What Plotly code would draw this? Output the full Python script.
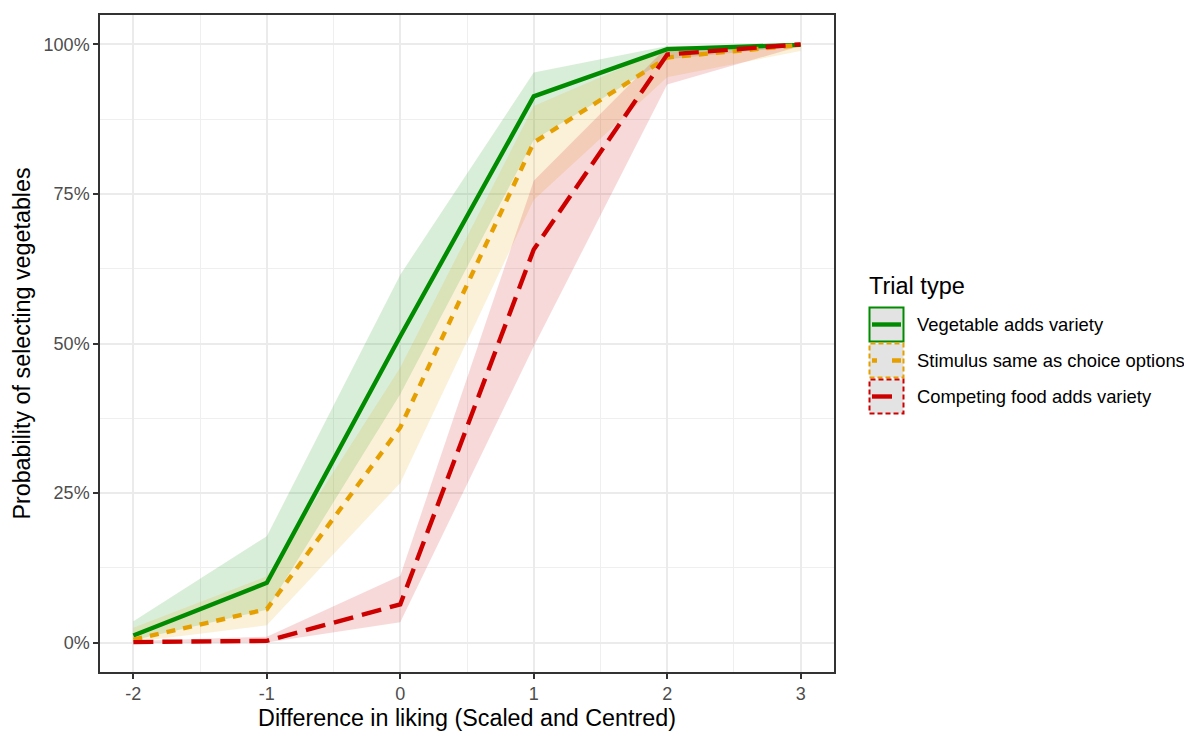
import plotly.graph_objects as go

# ---------------- data ----------------
liking = [-2, -1, 0, 1, 2, 3]

series_names = ["Vegetable adds variety",
                "Stimulus same as choice options",
                "Competing food adds variety"]

veg_mean = [0.012, 0.100, 0.512, 0.913, 0.992, 0.999]
veg_lo   = [0.004, 0.055, 0.415, 0.840, 0.975, 0.997]
veg_hi   = [0.036, 0.178, 0.615, 0.953, 0.997, 1.000]

stim_mean = [0.005, 0.056, 0.360, 0.836, 0.978, 0.999]
stim_lo   = [0.001, 0.029, 0.267, 0.740, 0.945, 0.989]
stim_hi   = [0.025, 0.111, 0.460, 0.897, 0.993, 1.000]

comp_mean = [0.001, 0.003, 0.064, 0.657, 0.983, 1.000]
comp_lo   = [0.000, 0.0005, 0.034, 0.495, 0.933, 0.997]
comp_hi   = [0.003, 0.010, 0.112, 0.772, 0.996, 1.000]

x_ticks = [-2, -1, 0, 1, 2, 3]
y_ticks = [0, 0.25, 0.5, 0.75, 1.0]
y_tick_labels = ["0%", "25%", "50%", "75%", "100%"]

# ---------------- styles ----------------
OFF = 8                       # page body margin of the browser
W, H = 1192 - OFF, 742 - OFF
L, R, T, B = 100 - OFF, 834 - OFF, 15 - OFF, 672 - OFF   # plot panel in figure pixels
colors = ["#008B00", "#E69F00", "#CD0000"]
fills = ["rgba(0,139,0,0.15)", "rgba(230,159,0,0.15)", "rgba(205,0,0,0.15)"]
dashes = ["solid", "9px,8px", "20px,9px"]
FONT = "Liberation Sans, Arial, sans-serif"

means = [veg_mean, stim_mean, comp_mean]
los = [veg_lo, stim_lo, comp_lo]
his = [veg_hi, stim_hi, comp_hi]

fig = go.Figure()

# ribbons first
for i in range(3):
    fig.add_trace(go.Scatter(
        x=liking + liking[::-1],
        y=his[i] + los[i][::-1],
        fill="toself", fillcolor=fills[i], mode="none",
        line=dict(width=0), hoverinfo="skip", showlegend=False))

# lines on top
for i in range(3):
    fig.add_trace(go.Scatter(
        x=liking, y=means[i], mode="lines", name=series_names[i],
        line=dict(color=colors[i], width=4.4, dash=dashes[i]),
        showlegend=False))

# helpers: page pixel -> paper coordinate
def px(xp):
    return (xp - OFF - L) / (R - L)

def py(yp):
    return (B - (yp - OFF)) / (B - T)

shapes = []
annotations = []

# legend title
annotations.append(dict(x=px(867), y=py(286), xref="paper", yref="paper",
                        text="Trial type", showarrow=False, xanchor="left",
                        yanchor="middle", font=dict(family=FONT, size=23.5, color="black")))

key_tops = [307.5, 343.5, 379.5]
key_size = 34
border_dash = ["solid", "5px,3px", "5px,3px"]
key_dash = ["solid", "5px,15px,9px,100px", "20px,9px"]
for i in range(3):
    y0 = key_tops[i]
    y1 = y0 + key_size
    shapes.append(dict(type="rect", xref="paper", yref="paper",
                       x0=px(869.5), x1=px(903.5), y0=py(y1), y1=py(y0),
                       fillcolor="#E3E3E3",
                       line=dict(color=colors[i], width=2, dash=border_dash[i])))
    ym = py((y0 + y1) / 2)
    shapes.append(dict(type="line", xref="paper", yref="paper",
                       x0=px(872), x1=px(901), y0=ym, y1=ym,
                       line=dict(color=colors[i], width=4.4, dash=key_dash[i])))
    annotations.append(dict(x=px(915), y=ym, xref="paper", yref="paper",
                            text=series_names[i], showarrow=False,
                            xanchor="left", yanchor="middle",
                            font=dict(family=FONT, size=18.4, color="black")))

fig.update_layout(
    width=W, height=H,
    margin=dict(l=L, r=W - R, t=T, b=H - B, pad=0, autoexpand=False),
    paper_bgcolor="white", plot_bgcolor="white",
    font=dict(family=FONT, color="black"),
    showlegend=False,
    shapes=shapes, annotations=annotations,
    xaxis=dict(
        range=[-2.25, 3.25], tickvals=x_ticks, ticktext=[str(v) for v in x_ticks],
        showgrid=True, gridcolor="#EBEBEB", gridwidth=1.6,
        minor=dict(dtick=0.5, tick0=-2.5, showgrid=True, gridcolor="#EFEFEF", gridwidth=1),
        zeroline=False, showline=True, mirror=True, linecolor="#333333", linewidth=1.5,
        ticks="outside", ticklen=5, tickwidth=1.5, tickcolor="#333333",
        tickfont=dict(family=FONT, size=18, color="#4D4D4D"),
        automargin=False,
        title=dict(text="Difference in liking (Scaled and Centred)",
                   font=dict(family=FONT, size=23.3, color="black"), standoff=6),
    ),
    yaxis=dict(
        range=[-0.049, 1.049], tickvals=y_ticks, ticktext=y_tick_labels,
        showgrid=True, gridcolor="#EBEBEB", gridwidth=1.6,
        minor=dict(dtick=0.125, tick0=0, showgrid=True, gridcolor="#EFEFEF", gridwidth=1),
        zeroline=False, showline=True, mirror=True, linecolor="#333333", linewidth=1.5,
        ticks="outside", ticklen=5, tickwidth=1.5, tickcolor="#333333",
        tickfont=dict(family=FONT, size=18, color="#4D4D4D"),
        automargin=False,
        title=dict(text="Probability of selecting vegetables",
                   font=dict(family=FONT, size=23.3, color="black"), standoff=6),
    ),
)

fig.write_html("out.html")
